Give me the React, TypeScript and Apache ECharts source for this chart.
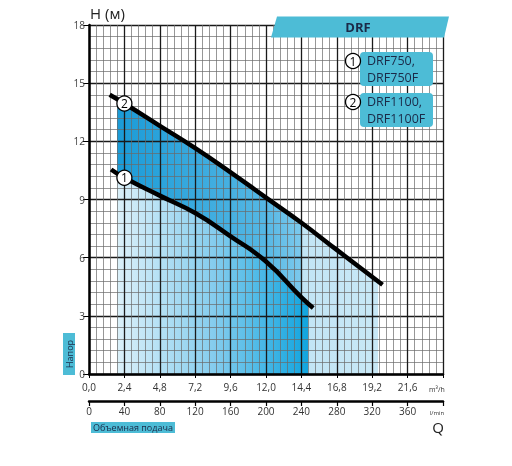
import { useEffect, useRef } from "react";
import * as echarts from "echarts";

// Q (m³/h), H (m)
const curve1 = [
  [1.5, 10.55], [2.4, 10.12], [4.8, 9.2], [7.2, 8.3], [9.6, 7.1],
  [12.0, 5.8], [14.4, 3.95], [15.2, 3.4],
];
const curve2 = [
  [1.4, 14.4], [2.4, 13.95], [4.8, 12.8], [7.2, 11.65], [9.6, 10.4],
  [12.0, 9.1], [14.4, 7.8], [16.8, 6.4], [19.9, 4.6],
];
const fill1 = [
  [1.9, 10.33], [2.4, 10.12], [4.8, 9.2], [7.2, 8.3], [9.6, 7.1],
  [12.0, 5.8], [14.4, 3.95], [14.85, 3.65],
];
const fill2 = [
  [1.9, 14.18], [2.4, 13.95], [4.8, 12.8], [7.2, 11.65], [9.6, 10.4],
  [12.0, 9.1], [14.4, 7.8], [16.8, 6.4], [19.6, 4.77],
];
const markers = [
  { name: "1", value: [2.4, 10.12] },
  { name: "2", value: [2.4, 13.95] },
];
const legendItems = [
  ["DRF750,", "DRF750F"],
  ["DRF1100,", "DRF1100F"],
];

const FONT = "'Open Sans', sans-serif";
const NAVY = "#1b2a48";
const TEAL = "#4dbcd6";

export default function App() {
  const ref = useRef<HTMLDivElement>(null);

  useEffect(() => {
    if (!ref.current) return;
    const chart = echarts.init(ref.current, undefined, { renderer: "svg" });

    const legendGraphics = legendItems.flatMap((lines, i) => {
      const y = 52 + i * 41;
      return [
        {
          type: "rect",
          shape: { x: 360, y, width: 73, height: 34, r: 4 },
          style: { fill: TEAL },
          z: 10,
        },
        ...lines.map((txt, j) => ({
          type: "text",
          x: 367,
          y: y + 8.5 + j * 16.5,
          style: {
            text: txt,
            fill: NAVY,
            font: `12.5px ${FONT}`,
            lineHeight: 15,
            verticalAlign: "middle",
          },
          z: 11,
        })),
        {
          type: "circle",
          shape: { cx: 353, cy: y + 9, r: 7.5 },
          style: { fill: "#fff", stroke: "#000", lineWidth: 1.3 },
          z: 11,
        },
        {
          type: "text",
          x: 353,
          y: y + 9,
          style: {
            text: String(i + 1),
            fill: "#000",
            font: `12px ${FONT}`,
            align: "center",
            verticalAlign: "middle",
          },
          z: 12,
        },
      ];
    });

    const curveStyle = {
      type: "line",
      smooth: true,
      symbol: "none",
    };

    chart.setOption({
      animation: false,
      textStyle: { fontFamily: FONT },
      grid: { left: 89, top: 25, width: 354, height: 349 },
      xAxis: [
        {
          type: "value",
          min: 0,
          max: 24,
          interval: 2.4,
          z: 3,
          axisLine: { lineStyle: { color: "#000", width: 2.5 } },
          axisTick: { length: 4, lineStyle: { color: "#000" } },
          axisLabel: {
            fontSize: 10,
            lineHeight: 11,
            color: "#333",
            margin: 7,
            formatter: (v: number) =>
              v >= 23.9 ? "" : v.toFixed(1).replace(".", ","),
          },
          splitLine: { lineStyle: { color: "#1a1a1a", width: 1.3 } },
          minorTick: { show: false, splitNumber: 5 },
          minorSplitLine: { show: true, lineStyle: { color: "#6a6a6a", width: 0.7 } },
        },
        {
          type: "value",
          position: "bottom",
          offset: 27,
          min: 0,
          max: 400,
          interval: 40,
          z: 3,
          axisLine: { onZero: false, lineStyle: { color: "#000", width: 2.5 } },
          axisTick: { length: 5, lineStyle: { color: "#000", width: 1.2 } },
          axisLabel: {
            fontSize: 10,
            color: "#333",
            margin: 5,
            formatter: (v: number) => (v >= 400 ? "" : String(v)),
          },
          splitLine: { show: false },
        },
      ],
      yAxis: {
        type: "value",
        min: 0,
        max: 18,
        interval: 3,
        z: 3,
        axisLine: { show: true, lineStyle: { color: "#000", width: 2.5 } },
        axisTick: { show: true, length: 6, lineStyle: { color: "#000" } },
        axisLabel: { fontSize: 10, lineHeight: 10, color: "#444", margin: 4 },
        splitLine: { lineStyle: { color: "#1a1a1a", width: 1.3 } },
        minorTick: { show: false, splitNumber: 5 },
        minorSplitLine: { show: true, lineStyle: { color: "#6a6a6a", width: 0.7 } },
      },
      series: [
        {
          ...curveStyle,
          data: fill2,
          z: 1,
          lineStyle: { width: 0 },
          areaStyle: {
            opacity: 1,
            color: new echarts.graphic.LinearGradient(0, 0, 1, 0, [
              { offset: 0, color: "#1a9bd7" },
              { offset: 0.57, color: "#55b7e4" },
              { offset: 0.705, color: "#7cc9ec" },
              { offset: 0.706, color: "#c2e5f5" },
              { offset: 1, color: "#c8e8f6" },
            ]),
          },
        },
        {
          ...curveStyle,
          data: fill1,
          z: 1,
          lineStyle: { width: 0 },
          areaStyle: {
            opacity: 1,
            color: new echarts.graphic.LinearGradient(0, 0, 1, 0, [
              { offset: 0, color: "#dbf0f9" },
              { offset: 0.5, color: "#86cdee" },
              { offset: 1, color: "#12a5df" },
            ]),
          },
        },
        {
          ...curveStyle,
          data: curve2,
          z: 5,
          lineStyle: { color: "#000", width: 4.5 },
        },
        {
          ...curveStyle,
          data: curve1,
          z: 5,
          lineStyle: { color: "#000", width: 4.5 },
        },
        {
          type: "scatter",
          data: markers,
          symbol: "circle",
          symbolSize: 15,
          z: 6,
          itemStyle: { color: "#fff", borderColor: "#000", borderWidth: 1.3, opacity: 1 },
          label: {
            show: true,
            position: "inside",
            formatter: (p: any) => p.name,
            fontSize: 12,
            color: "#000",
          },
        },
      ],
      graphic: [
        {
          type: "text",
          x: 90,
          y: 13,
          style: {
            text: "H (м)",
            fill: "#222",
            font: `15px ${FONT}`,
            verticalAlign: "middle",
          },
        },
        {
          type: "polygon",
          shape: { points: [[277, 16.5], [449, 16.5], [444, 37.5], [271, 37.5]] },
          style: { fill: TEAL },
          z: 10,
        },
        {
          type: "text",
          x: 358,
          y: 27,
          style: {
            text: "DRF",
            fill: NAVY,
            font: `bold 13px ${FONT}`,
            align: "center",
            verticalAlign: "middle",
          },
          z: 11,
        },
        ...legendGraphics,
        {
          type: "rect",
          shape: { x: 63, y: 333, width: 12, height: 42 },
          style: { fill: TEAL },
        },
        {
          type: "text",
          x: 69,
          y: 354,
          rotation: Math.PI / 2,
          style: {
            text: "Напор",
            fill: NAVY,
            font: `9px ${FONT}`,
            align: "center",
            verticalAlign: "middle",
          },
        },
        {
          type: "rect",
          shape: { x: 91, y: 422, width: 84, height: 11 },
          style: { fill: TEAL },
        },
        {
          type: "text",
          x: 133,
          y: 427.5,
          style: {
            text: "Объемная подача",
            fill: NAVY,
            font: `9px ${FONT}`,
            align: "center",
            verticalAlign: "middle",
          },
        },
        {
          type: "text",
          x: 437,
          y: 389,
          style: {
            text: "m³/h",
            fill: "#333",
            font: `7px ${FONT}`,
            align: "center",
            verticalAlign: "middle",
          },
        },
        {
          type: "text",
          x: 437,
          y: 413,
          style: {
            text: "l/min",
            fill: "#333",
            font: `6px ${FONT}`,
            align: "center",
            verticalAlign: "middle",
          },
        },
        {
          type: "text",
          x: 438,
          y: 427,
          style: {
            text: "Q",
            fill: "#222",
            font: `15px ${FONT}`,
            align: "center",
            verticalAlign: "middle",
          },
        },
      ],
    });

    return () => chart.dispose();
  }, []);

  return (
    <div
      ref={ref}
      style={{ position: "fixed", left: 0, top: 0, width: 512, height: 466 }}
    />
  );
}
